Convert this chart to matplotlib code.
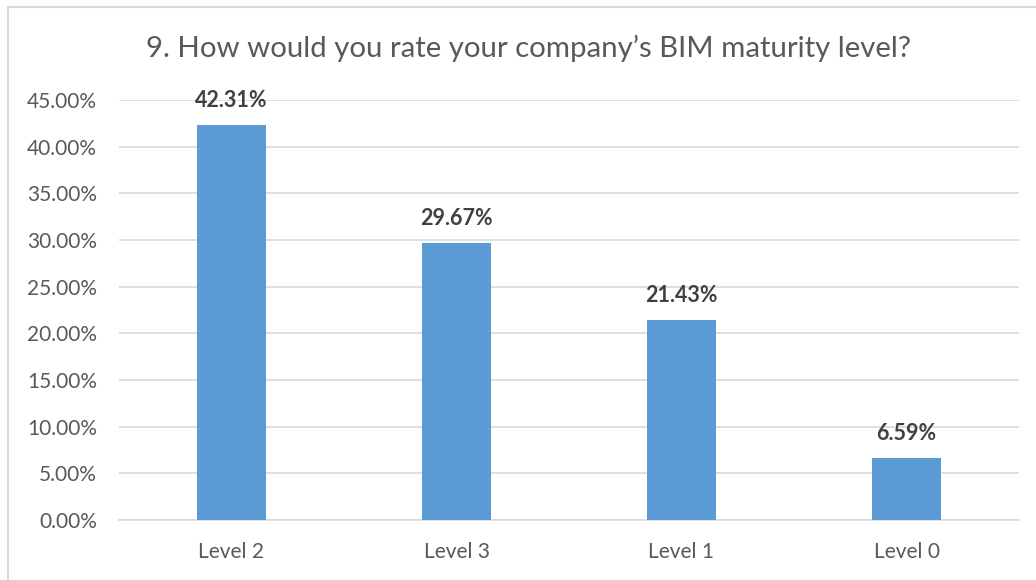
import matplotlib.pyplot as plt
from matplotlib.lines import Line2D
from matplotlib.ticker import FuncFormatter, MultipleLocator

levels = ["Level 2", "Level 3", "Level 1", "Level 0"]
shares = [42.31, 29.67, 21.43, 6.59]

bar_color = "#5B9BD5"
grid_color = "#D9D9D9"
text_color = "#595959"

plt.rcParams["font.family"] = ["Lato", "DejaVu Sans"]

fig = plt.figure(figsize=(10.36, 5.8), dpi=100)
ax = fig.add_axes([119 / 1036, 1 - 520 / 580, 900 / 1036, 420 / 580])

x = range(len(levels))
ax.bar(x, shares, width=0.31, color=bar_color, zorder=3)
for xi, v in zip(x, shares):
    ax.text(xi, v + 1.5, f"{v:.2f}%", ha="center", va="bottom",
            fontsize=15.5, fontweight="bold", color="#404040")

ax.set_xlim(-0.5, len(levels) - 0.5)
ax.set_ylim(0, 45)
ax.yaxis.set_major_locator(MultipleLocator(5))
ax.yaxis.set_major_formatter(FuncFormatter(lambda v, p: f"{v:.2f}%"))
ax.set_xticks(list(x))
ax.set_xticklabels(levels)
ax.grid(axis="y", color=grid_color, linewidth=1.2, zorder=0)
ax.tick_params(axis="both", length=0, labelsize=15, colors=text_color)
ax.tick_params(axis="x", pad=16)
ax.tick_params(axis="y", pad=16)
for side in ["top", "right", "left"]:
    ax.spines[side].set_visible(False)
ax.spines["bottom"].set_color(grid_color)
ax.spines["bottom"].set_linewidth(1.2)

fig.text(529 / 1036, 1 - 48 / 580, "9. How would you rate your company\u2019s BIM maturity level?",
         ha="center", va="center", fontsize=21.2, color=text_color)

# chart frame, only top and left edges fall inside the image
fig.add_artist(Line2D([8 / 1036, 1], [1 - 7 / 580, 1 - 7 / 580],
                      transform=fig.transFigure, color=grid_color, linewidth=1.5))
fig.add_artist(Line2D([8 / 1036, 8 / 1036], [0, 1 - 7 / 580],
                      transform=fig.transFigure, color=grid_color, linewidth=1.5))

fig.savefig("out.png", dpi=100, facecolor="white")
